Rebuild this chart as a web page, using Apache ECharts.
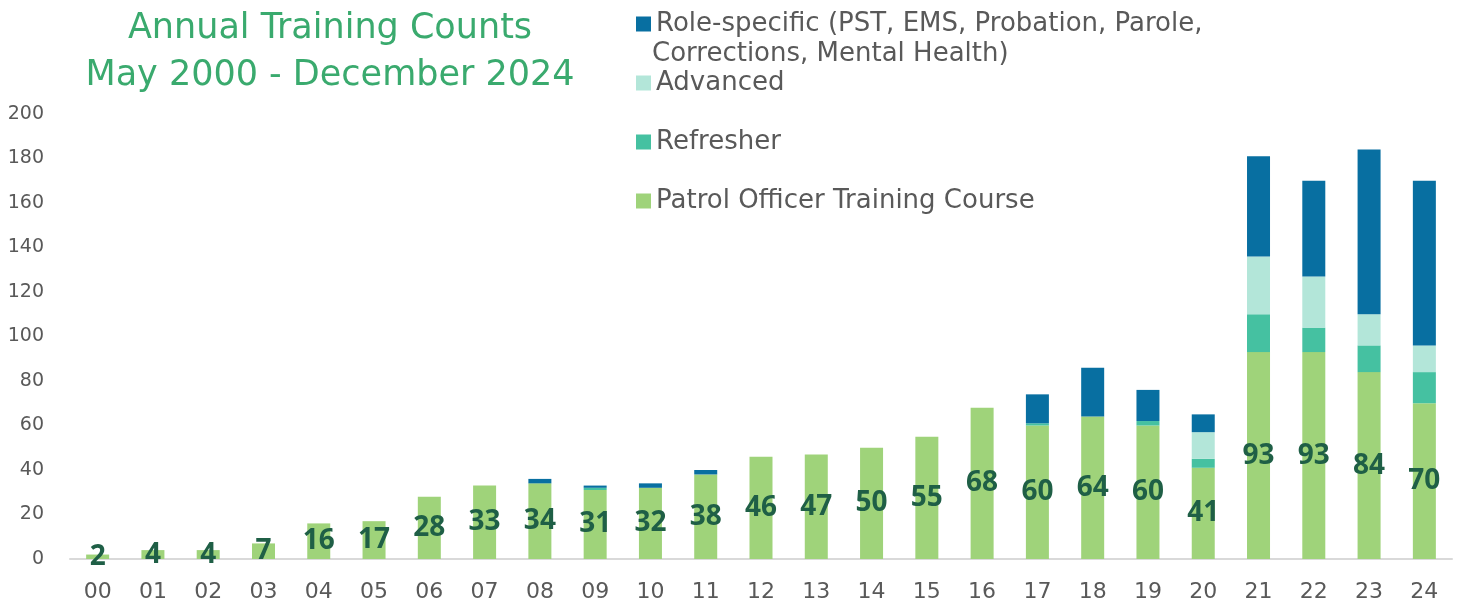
<!DOCTYPE html>
<html>
<head>
<meta charset="utf-8">
<script src="https://cdn.jsdelivr.net/npm/echarts@6/dist/echarts.min.js"></script>
<style>
  html, body { margin: 0; padding: 0; background: #ffffff; }
  #chart { width: 1463px; height: 610px; }
</style>
</head>
<body>
<div id="chart"></div>
<script>
const categories = ['00','01','02','03','04','05','06','07','08','09','10','11','12','13','14','15','16','17','18','19','20','21','22','23','24'];
const patrol    = [2,4,4,7,16,17,28,33,34,31,32,38,46,47,50,55,68,60,64,60,41,93,93,84,70];
const refresher = [0,0,0,0,0,0,0,0,0,1,0,0,0,0,0,0,0,1,0,2,4,17,11,12,14];
const advanced  = [0,0,0,0,0,0,0,0,0,0,0,0,0,0,0,0,0,0,0,0,12,26,23,14,12];
const role      = [0,0,0,0,0,0,0,0,2,1,2,2,0,0,0,0,0,13,22,14,8,45,43,74,74];
const yTicks = [0,20,40,60,80,100,120,140,160,180,200];

const names = {
  role: 'Role-specific (PST, EMS, Probation, Parole, Corrections, Mental Health)',
  advanced: 'Advanced',
  refresher: 'Refresher',
  patrol: 'Patrol Officer Training Course'
};
const FONT = 'DejaVu Sans';
const GRAY = '#595959';

const chart = echarts.init(document.getElementById('chart'));
const barW = 23;
const option = {
  animation: false,
  title: {
    text: 'Annual Training Counts\nMay 2000 - December 2024',
    left: 325, top: 0, textAlign: 'center',
    textStyle: { color: '#3aaa6e', fontSize: 35, fontWeight: 'normal', fontFamily: FONT, lineHeight: 47 }
  },
  legend: {
    orient: 'vertical', left: 631, top: 4,
    itemWidth: 15, itemHeight: 15, itemGap: 29,
    icon: 'rect',
    data: [names.role, names.advanced, names.refresher, names.patrol],
    formatter: function (n) { return n === names.role ? 'Role-specific (PST, EMS, Probation, Parole,' : n; },
    textStyle: { color: GRAY, fontSize: 26, fontFamily: FONT, lineHeight: 30 }
  },
  graphic: [{
    type: 'text', left: 652, top: 41,
    style: { text: 'Corrections, Mental Health)', fill: GRAY, fontSize: 26, fontFamily: FONT }
  }],
  grid: { left: 70, right: 11, top: 114, bottom: 51, containLabel: false },
  xAxis: {
    type: 'category', data: categories,
    axisLine: { lineStyle: { color: '#d9d9d9', width: 2 } },
    axisTick: { show: false },
    axisLabel: { color: GRAY, fontSize: 22, fontFamily: FONT, margin: 22 }
  },
  yAxis: {
    type: 'value', min: yTicks[0], max: yTicks[yTicks.length - 1], interval: yTicks[1] - yTicks[0],
    axisLine: { show: false }, axisTick: { show: false },
    splitLine: { show: false },
    axisLabel: { color: GRAY, fontSize: 19, fontFamily: FONT, margin: 26 }
  },
  series: [
    { name: names.patrol, type: 'bar', stack: 't', data: patrol, barWidth: barW,
      itemStyle: { color: '#9fd37a' },
      label: { show: true, position: 'inside', color: '#1f5f46', fontSize: 28, fontWeight: 'bold', fontFamily: '"Open Sans"' } },
    { name: names.refresher, type: 'bar', stack: 't', data: refresher, barWidth: barW,
      itemStyle: { color: '#45c1a1' } },
    { name: names.advanced, type: 'bar', stack: 't', data: advanced, barWidth: barW,
      itemStyle: { color: '#b3e6d9' } },
    { name: names.role, type: 'bar', stack: 't', data: role, barWidth: barW,
      itemStyle: { color: '#086fa1' } }
  ]
};
chart.setOption(option);
if (document.fonts && document.fonts.load) {
  Promise.all([
    document.fonts.load('bold 28px "Open Sans"'),
    document.fonts.load('26px "DejaVu Sans"')
  ]).then(function () { chart.setOption(option, true); });
}
</script>
</body>
</html>
